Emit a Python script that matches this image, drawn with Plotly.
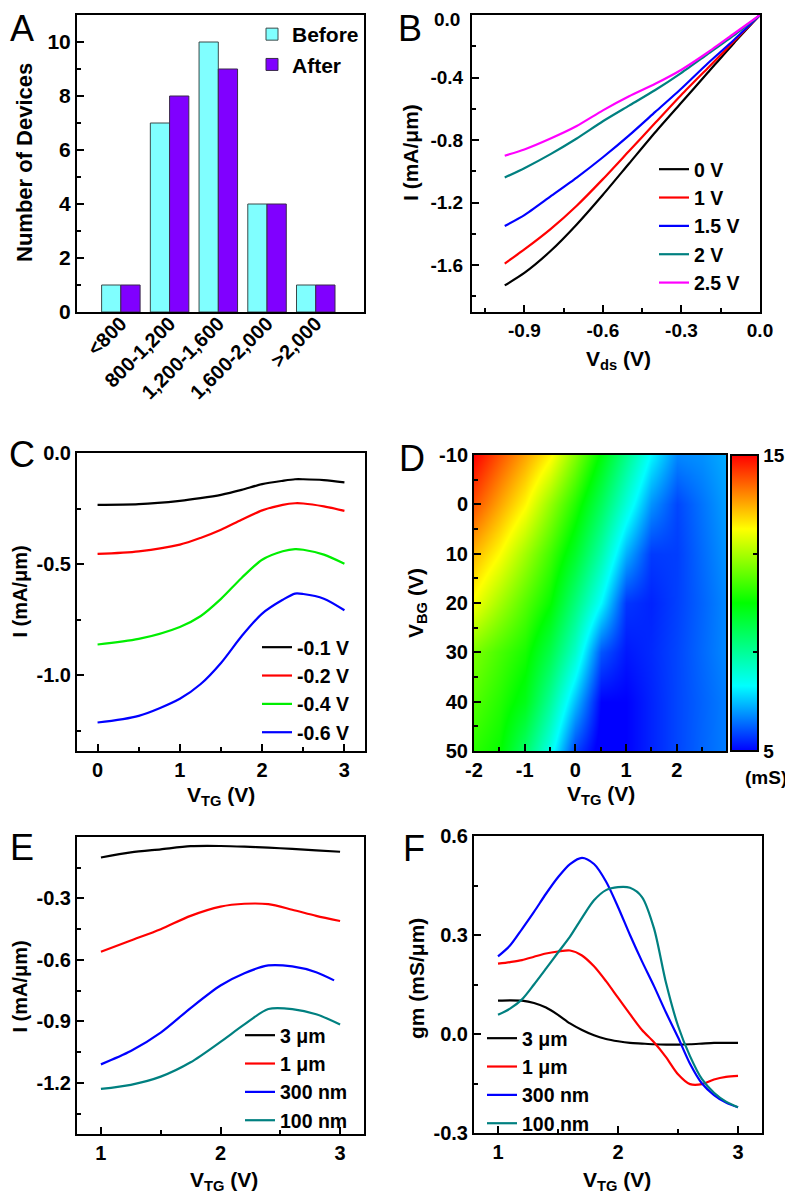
import plotly.graph_objects as go

# The page body adds an 8 px margin, so the figure is drawn 8 px in from the
# top-left corner of the window; all positions below are window pixels.
OFF = 8
W, H = 793 - OFF, 1199 - OFF
FONT = "Liberation Sans, Arial, sans-serif"

# ---------------- Data ----------------
# Panel A
bin_labels = ["<800", "800-1,200", "1,200-1,600", "1,600-2,000", ">2,000"]
bin_pos = [0, 1, 2, 3, 4]
before_counts = [1, 7, 10, 4, 1]
after_counts = [1, 8, 9, 4, 1]

# Panel B  (I vs Vds for several top-gate voltages)
vds = [-0.975, -0.9, -0.8, -0.7, -0.6, -0.5, -0.4, -0.3, -0.2, -0.1, 0.0]
i_b_0v = [-1.73, -1.65, -1.51, -1.34, -1.15, -0.95, -0.75, -0.56, -0.37, -0.18, 0.0]
i_b_1v = [-1.59, -1.50, -1.37, -1.22, -1.05, -0.87, -0.69, -0.51, -0.34, -0.17, 0.0]
i_b_15v = [-1.35, -1.28, -1.16, -1.04, -0.91, -0.77, -0.62, -0.47, -0.31, -0.16, 0.0]
i_b_2v = [-1.04, -0.98, -0.89, -0.79, -0.68, -0.58, -0.48, -0.37, -0.25, -0.13, 0.0]
i_b_25v = [-0.90, -0.86, -0.79, -0.71, -0.61, -0.52, -0.44, -0.35, -0.24, -0.12, 0.0]
b_labels = ["0 V", "1 V", "1.5 V", "2 V", "2.5 V"]
b_ytickvals = [-1.6, -1.2, -0.8, -0.4, 0.0]
b_yticktext = ["-1.6", "-1.2", "-0.8", "-0.4", ""]
b_ytop_label = "0.0"

# Panel C  (I vs VTG for several Vds)
vtg_c = [0, 0.5, 1, 1.25, 1.5, 1.75, 2, 2.25, 2.4, 2.5, 2.75, 3]
i_c_01 = [-0.233, -0.230, -0.215, -0.203, -0.188, -0.166, -0.140, -0.125, -0.118, -0.118, -0.122, -0.132]
i_c_02 = [-0.454, -0.442, -0.412, -0.382, -0.345, -0.300, -0.258, -0.233, -0.226, -0.227, -0.240, -0.260]
i_c_04 = [-0.861, -0.836, -0.782, -0.734, -0.656, -0.562, -0.480, -0.442, -0.432, -0.435, -0.457, -0.498]
i_c_06 = [-1.212, -1.182, -1.105, -1.040, -0.944, -0.824, -0.722, -0.660, -0.632, -0.634, -0.655, -0.707]
c_labels = ["-0.1 V", "-0.2 V", "-0.4 V", "-0.6 V"]

# Panel D  (conductance map, mS)
vtg_d = [-2, -1.5, -1, -0.5, 0, 0.5, 1, 1.5, 2, 2.5, 3]
vbg_d = [-10, 0, 10, 20, 30, 40, 50]
g_vbg_m10 = [15.0, 14.2, 13.4, 12.6, 11.3, 9.9, 8.5, 7.15, 6.17, 6.25, 6.5]
g_vbg_0 = [14.2, 13.4, 12.57, 11.46, 10.34, 9.02, 7.61, 6.27, 5.6, 6.0, 6.4]
g_vbg_10 = [13.2, 12.51, 11.58, 10.64, 9.55, 8.13, 6.51, 5.5, 5.53, 5.92, 6.3]
g_vbg_20 = [12.4, 11.62, 10.83, 10.05, 8.66, 7.17, 5.46, 5.3, 5.55, 5.86, 6.2]
g_vbg_30 = [11.2, 10.71, 10.22, 9.2, 7.78, 5.74, 5.2, 5.35, 5.6, 5.9, 6.2]
g_vbg_40 = [10.8, 10.36, 9.74, 8.32, 6.64, 5.0, 5.0, 5.3, 5.6, 5.85, 6.1]
g_vbg_50 = [10.4, 10.07, 8.86, 7.43, 5.57, 4.8, 5.0, 5.3, 5.6, 5.87, 6.1]
cbar_ticks = [5, 8.333, 11.667, 15]
cbar_text = ["5", "", "", "15"]

# Panel E  (I vs VTG for several channel lengths)
vtg_e = [1, 1.25, 1.5, 1.75, 2, 2.2, 2.4, 2.6, 2.8, 3]
vtg_e_300 = [1, 1.25, 1.5, 1.75, 2, 2.2, 2.4, 2.6, 2.8, 2.95]
i_e_3um = [-0.10, -0.075, -0.06, -0.045, -0.044, -0.047, -0.052, -0.058, -0.065, -0.072]
i_e_1um = [-0.56, -0.505, -0.45, -0.385, -0.34, -0.326, -0.328, -0.355, -0.385, -0.41]
i_e_300nm = [-1.11, -1.045, -0.955, -0.835, -0.725, -0.665, -0.627, -0.632, -0.66, -0.70]
i_e_100nm = [-1.23, -1.21, -1.17, -1.10, -1.0, -0.915, -0.84, -0.84, -0.865, -0.915]
len_labels = ["3 μm", "1 μm", "300 nm", "100 nm"]

# Panel F  (gm vs VTG)
vtg_f = [1.0, 1.1, 1.2, 1.3, 1.4, 1.5, 1.6, 1.7, 1.8, 1.9, 2.0,
         2.1, 2.2, 2.3, 2.4, 2.5, 2.6, 2.7, 2.8, 2.9, 3.0]
gm_3um = [0.101, 0.102, 0.101, 0.094, 0.080, 0.058, 0.032, 0.012, -0.004, -0.015, -0.022,
          -0.027, -0.029, -0.031, -0.032, -0.032, -0.031, -0.029, -0.027, -0.027, -0.027]
gm_1um = [0.213, 0.218, 0.224, 0.234, 0.244, 0.250, 0.253, 0.238, 0.205, 0.160, 0.110,
          0.060, 0.012, -0.025, -0.070, -0.122, -0.152, -0.152, -0.138, -0.130, -0.127]
gm_300nm = [0.235, 0.268, 0.318, 0.370, 0.425, 0.475, 0.515, 0.534, 0.515, 0.462, 0.385,
            0.300, 0.220, 0.145, 0.065, -0.010, -0.090, -0.150, -0.185, -0.208, -0.222]
gm_100nm = [0.058, 0.077, 0.105, 0.150, 0.198, 0.247, 0.295, 0.352, 0.405, 0.436, 0.445,
            0.443, 0.415, 0.320, 0.155, 0.025, -0.067, -0.137, -0.178, -0.205, -0.222]

# ---------------- Helpers ----------------
def px_x(p):
    return (p - OFF) / W

def px_y(p):
    return 1 - (p - OFF) / H

def tf(size=19, bold=True):
    return dict(family=FONT, size=size, color="black", weight="bold" if bold else "normal")

def axis(domain, rng, tickvals, ticktext, minor_vals=None, anchor=None, fsize=19, **kw):
    d = dict(domain=domain, range=rng, showline=True, linewidth=2, linecolor="black",
             mirror=True, ticks="inside", ticklen=7, tickwidth=2, tickcolor="black",
             showgrid=False, zeroline=False, tickmode="array", tickvals=tickvals,
             ticktext=ticktext, tickfont=tf(fsize), anchor=anchor, fixedrange=True,
             automargin=False, ticklabeloverflow="allow")
    if minor_vals:
        d["minor"] = dict(tickmode="array", tickvals=minor_vals, ticks="inside",
                          ticklen=4, tickwidth=2, tickcolor="black", showgrid=False)
    d.update(kw)
    return d

fig = go.Figure()
LW = 2.2

# Panel A
fig.add_trace(go.Bar(x=bin_pos, y=before_counts, name="Before", marker=dict(color="#80ffff", line=dict(color="#3a4a4a", width=1)),
                     xaxis="x", yaxis="y", legend="legend", legendgroup="a1"))
fig.add_trace(go.Bar(x=bin_pos, y=after_counts, name="After", marker=dict(color="#8000ff", line=dict(color="#3a2a4a", width=1)),
                     xaxis="x", yaxis="y", legend="legend", legendgroup="a2"))

# Panel B
for ys, nm, col in zip([i_b_0v, i_b_1v, i_b_15v, i_b_2v, i_b_25v], b_labels,
                       ["#000000", "#ff0000", "#0000ff", "#008080", "#ff00ff"]):
    fig.add_trace(go.Scatter(x=vds, y=ys, name=nm, mode="lines", line=dict(color=col, width=LW, shape="spline", smoothing=0.6),
                             xaxis="x2", yaxis="y2", legend="legend2"))

# Panel C
for ys, nm, col in zip([i_c_01, i_c_02, i_c_04, i_c_06], c_labels,
                       ["#000000", "#ff0000", "#00ee00", "#0000ff"]):
    fig.add_trace(go.Scatter(x=vtg_c, y=ys, name=nm, mode="lines", line=dict(color=col, width=LW, shape="spline", smoothing=0.8),
                             xaxis="x3", yaxis="y3", legend="legend3"))

# Panel D
fig.add_trace(go.Heatmap(
    x=vtg_d, y=vbg_d,
    z=[g_vbg_m10, g_vbg_0, g_vbg_10, g_vbg_20, g_vbg_30, g_vbg_40, g_vbg_50],
    zmin=5, zmax=15, zsmooth="best",
    colorscale=[[0, "#0000ff"], [0.22, "#00ffff"], [0.5, "#00ff00"], [0.75, "#ffff00"], [1, "#ff0000"]],
    xaxis="x4", yaxis="y4", showlegend=False,
    colorbar=dict(x=px_x(731), xanchor="left", xpad=0, ypad=0, thickness=27,
                  len=296 / H, lenmode="fraction", y=px_y(603), yanchor="middle",
                  outlinewidth=2, outlinecolor="black", tickmode="array",
                  tickvals=cbar_ticks, ticktext=cbar_text, ticks="inside", ticklen=6,
                  tickwidth=2, tickcolor="black", tickfont=tf(19)),
))

# Panel E
ecols = ["#000000", "#ff0000", "#0000ff", "#008080"]
for xs, ys, nm, col in zip([vtg_e, vtg_e, vtg_e_300, vtg_e], [i_e_3um, i_e_1um, i_e_300nm, i_e_100nm], len_labels, ecols):
    fig.add_trace(go.Scatter(x=xs, y=ys, name=nm, mode="lines", line=dict(color=col, width=LW, shape="spline", smoothing=0.8),
                             xaxis="x5", yaxis="y5", legend="legend4"))

# Panel F
for ys, nm, col in zip([gm_3um, gm_1um, gm_300nm, gm_100nm], len_labels, ecols):
    fig.add_trace(go.Scatter(x=vtg_f, y=ys, name=nm, mode="lines", line=dict(color=col, width=LW, shape="spline", smoothing=0.8),
                             xaxis="x6", yaxis="y6", legend="legend5"))

# ---------------- Layout ----------------
dA_x = [px_x(77), px_x(364)]
dB_x = [px_x(472), px_x(760)]
dC_x = [px_x(77), px_x(365)]
dD_x = [px_x(474), px_x(726)]
dE_x = [px_x(77), px_x(364)]
dF_x = [px_x(474), px_x(762)]
rowAB = [px_y(312), px_y(15)]
rowC = [px_y(751), px_y(453)]
rowD = [px_y(751), px_y(455)]
rowE = [px_y(1134), px_y(837)]
rowF = [px_y(1133), px_y(836)]

def legend_cfg(xp, yp, gap=0, size=19.5):
    return dict(x=px_x(xp), y=px_y(yp), xanchor="left", yanchor="top", font=tf(size),
                bgcolor="rgba(0,0,0,0)", borderwidth=0, tracegroupgap=gap, traceorder="normal")

layout = dict(
    width=W, height=H, margin=dict(l=0, r=0, t=0, b=0, autoexpand=False),
    paper_bgcolor="white", plot_bgcolor="white",
    barmode="group", bargap=0.21, bargroupgap=0,
    showlegend=True,
    font=tf(19),
    xaxis=axis(dA_x, [-0.9, 4.99], bin_pos, bin_labels, anchor="y", fsize=20, ticks="", tickangle=-45,
               ticklabelstandoff=-10),
    yaxis=axis(rowAB, [0, 11], [0, 2, 4, 6, 8, 10], ["0", "2", "4", "6", "8", "10"], [1, 3, 5, 7, 9], anchor="x", fsize=21),
    xaxis2=axis(dB_x, [-1.1, 0], [-0.9, -0.6, -0.3, 0.0], ["-0.9", "-0.6", "-0.3", "0.0"],
                [-1.05, -0.75, -0.45, -0.15], anchor="y2"),
    yaxis2=axis(rowAB, [-1.9, 0], b_ytickvals, b_yticktext,
                [-1.8, -1.4, -1.0, -0.6, -0.2], anchor="x2", ticklabelstandoff=3),
    xaxis3=axis(dC_x, [-0.25, 3.25], [0, 1, 2, 3], ["0", "1", "2", "3"], [0.5, 1.5, 2.5], anchor="y3", fsize=20),
    yaxis3=axis(rowC, [-1.34, 0], [-1.0, -0.5, 0.0], ["-1.0", "-0.5", "0.0"], [-1.25, -0.75, -0.25], anchor="x3", fsize=20),
    xaxis4=axis(dD_x, [-2, 2.97], [-2, -1, 0, 1, 2], ["-2", "-1", "0", "1", "2"], [-1.5, -0.5, 0.5, 1.5, 2.5], anchor="y4", fsize=20),
    yaxis4=axis(rowD, [50, -10], [-10, 0, 10, 20, 30, 40, 50], ["-10", "0", "10", "20", "30", "40", "50"],
                [-5, 5, 15, 25, 35, 45], anchor="x4", fsize=20),
    xaxis5=axis(dE_x, [0.8, 3.2], [1, 2, 3], ["1", "2", "3"], [1.5, 2.5], anchor="y5", fsize=20),
    yaxis5=axis(rowE, [-1.45, 0], [-1.2, -0.9, -0.6, -0.3], ["-1.2", "-0.9", "-0.6", "-0.3"],
                [-1.35, -1.05, -0.75, -0.45, -0.15], anchor="x5", fsize=20),
    xaxis6=axis(dF_x, [0.8, 3.2], [1, 2, 3], ["1", "2", "3"], [1.5, 2.5], anchor="y6", fsize=20),
    yaxis6=axis(rowF, [-0.3, 0.6], [-0.3, 0.0, 0.3, 0.6], ["-0.3", "0.0", "0.3", "0.6"],
                [-0.15, 0.15, 0.45], anchor="x6", fsize=20),
    legend=legend_cfg(252, 14, gap=2, size=21),
    legend2=legend_cfg(654, 150),
    legend3=legend_cfg(257, 628),
    legend4=legend_cfg(240, 1016),
    legend5=legend_cfg(482, 1019),
)
fig.update_layout(**layout)

annotations = []
def ann(text, x, y, size=21, angle=0, bold=True, xanchor="center", yanchor="middle"):
    annotations.append(dict(text=text, x=px_x(x), y=px_y(y), xref="paper", yref="paper",
                            showarrow=False, textangle=angle, font=tf(size, bold),
                            xanchor=xanchor, yanchor=yanchor))

# panel letters
ann("A", 22, 29, size=36, bold=False)
ann("B", 410, 29, size=36, bold=False)
ann("C", 22, 454, size=36, bold=False)
ann("D", 412, 458, size=36, bold=False)
ann("E", 22, 847, size=36, bold=False)
ann("F", 414, 848, size=36, bold=False)

# top tick label of panel B (kept inside the page edge)
ann(b_ytop_label, 462, 19, size=19, xanchor="right")

# y titles
ann("Number of Devices", 24, 163, size=22, angle=-90)
ann("I (mA/μm)", 411, 153, angle=-90)
ann("I (mA/μm)", 19.5, 592, size=20, angle=-90)
ann("V<sub>BG</sub> (V)", 417, 603, angle=-90)
ann("I (mA/μm)", 19.5, 987, size=20, angle=-90)
ann("gm (mS/μm)", 416, 979, angle=-90)

# x titles
ann("V<sub>ds</sub> (V)", 618, 360)
ann("V<sub>TG</sub> (V)", 221, 796)
ann("V<sub>TG</sub> (V)", 601, 795)
ann("V<sub>TG</sub> (V)", 224, 1181)
ann("V<sub>TG</sub> (V)", 617, 1181)

# colorbar unit
ann("(mS)", 766, 777, size=19)

fig.update_layout(annotations=annotations)
fig.write_html("out.html")
